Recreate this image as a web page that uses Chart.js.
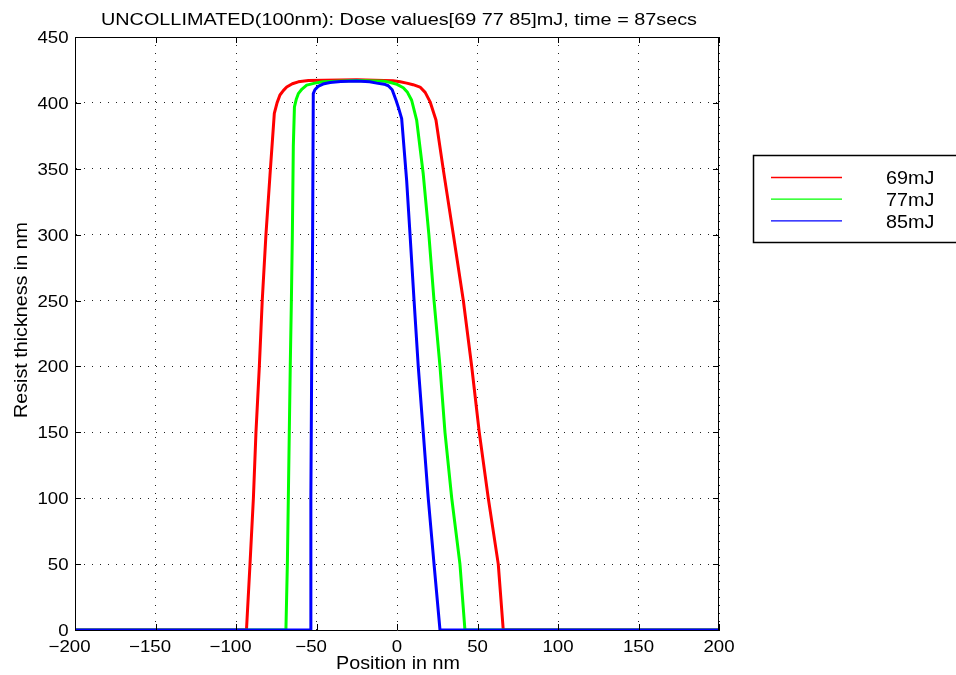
<!DOCTYPE html>
<html>
<head>
<meta charset="utf-8">
<script src="https://cdn.jsdelivr.net/npm/chart.js@4"></script>
<style>
html,body{margin:0;padding:0;background:#fff;}
#wrap{width:956px;height:675px;position:relative;}
</style>
</head>
<body>
<div id="wrap"><canvas id="c" width="956" height="675"></canvas></div>
<script>
'use strict';

const titleText = 'UNCOLLIMATED(100nm): Dose values[69 77 85]mJ, time = 87secs';
const xLabel = 'Position in nm';
const yLabel = 'Resist thickness in nm';
const seriesLabels = ['69mJ', '77mJ', '85mJ'];
const seriesColors = ['#ff0000', '#00ff00', '#0000ff'];

// position (nm) / resist thickness (nm)
const redX = [-200, -93.5, -91.3, -89.2, -87.6, -85.5, -83.7, -81.4, -78.9, -76.2, -74.5, -72.7, -70.5, -68.5, -65, -61.3, -55, -25, -2.5, 2, 6, 10, 14.3, 17.5, 20.5, 24.2, 28.8, 35, 41.2, 46.4, 51.1, 56.7, 62.9, 66, 200];
const redY = [0, 0, 50, 100, 150, 200, 250, 300, 345, 392, 400, 406, 409.5, 412, 414.5, 416, 417, 417.5, 416.8, 416, 415, 413.8, 412, 408, 401, 387, 349, 300, 250, 200, 150, 100, 50, 0, 0];

const greenX = [-200, -69, -68.1, -67.5, -66.9, -66.3, -65.6, -65, -64.4, -63.7, -62.5, -61.3, -59, -56.1, -51, -46, -25, -8, -4, 0, 3.9, 6.5, 9.1, 12.2, 16.3, 19.8, 23, 26.7, 29.8, 34, 39.1, 42.2, 200];
const greenY = [0, 0, 50, 100, 150, 200, 250, 300, 367, 397, 403, 407, 410.5, 413.5, 415, 416, 417, 416.5, 415.5, 414, 411.5, 408, 402, 387, 346, 300, 250, 200, 150, 100, 50, 0, 0];

const blueX = [-200, -54, -53.5, -53, -52.4, -52, -51, -49, -46, -41.6, -35, -25, -17, -12.6, -8, -5.4, -3, -0.6, 1, 2.9, 6, 8.1, 10.6, 13.2, 16.3, 19.4, 23, 26.7, 200];
const blueY = [0, 0, 100, 200, 300, 407, 410, 412.5, 414.3, 415.5, 416.3, 416.6, 416, 415, 414.2, 413, 410, 402, 396, 388, 341, 300, 250, 200, 150, 100, 50, 0, 0];

const xTicks = [-200, -150, -100, -50, 0, 50, 100, 150, 200];
const yTicks = [0, 50, 100, 150, 200, 250, 300, 350, 400, 450];

const FONT = '"Liberation Sans", Arial, sans-serif';
const SX = 1.13;

function pts(xs, ys){ return xs.map((x, i) => ({x, y: ys[i]})); }

// stretched text, like the wide Helvetica of the original figure
function txt(ctx, s, x, y, size, align, width){
  ctx.save();
  ctx.font = size + 'px ' + FONT;
  const w = ctx.measureText(s).width;
  const sx = width ? width / w : SX;
  ctx.translate(x, y);
  ctx.scale(sx, 1);
  ctx.textAlign = align;
  ctx.textBaseline = 'alphabetic';
  ctx.fillStyle = '#000';
  ctx.fillText(s, 0, 0);
  ctx.restore();
}

const matlabLook = {
  id: 'matlabLook',
  afterDraw(chart){
    const ctx = chart.ctx, a = chart.chartArea;
    const xs = chart.scales.x, ys = chart.scales.y;
    ctx.save();
    // box + inside ticks
    ctx.strokeStyle = '#000';
    ctx.lineWidth = 1;
    ctx.beginPath();
    ctx.moveTo(a.left, a.top + 0.5); ctx.lineTo(a.right, a.top + 0.5);
    ctx.moveTo(a.right - 0.5, a.top); ctx.lineTo(a.right - 0.5, a.bottom);
    xs.ticks.forEach(t => {
      const px = Math.round(xs.getPixelForValue(t.value)) + 0.5;
      ctx.moveTo(px, a.top); ctx.lineTo(px, a.top + 6);
      ctx.moveTo(px, a.bottom); ctx.lineTo(px, a.bottom - 6);
    });
    ys.ticks.forEach(t => {
      const py = Math.round(ys.getPixelForValue(t.value)) + 0.5;
      ctx.moveTo(a.left, py); ctx.lineTo(a.left + 6, py);
      ctx.moveTo(a.right, py); ctx.lineTo(a.right - 6, py);
    });
    ctx.stroke();

    // tick labels
    ctx.font = '16.5px ' + FONT;
    xs.ticks.forEach(t => {
      const px = xs.getPixelForValue(t.value);
      const digits = String(Math.abs(t.value));
      const dw = ctx.measureText(digits).width * SX;
      const s = (t.value < 0 ? '\u2212' : '') + digits;
      txt(ctx, s, px + dw / 2, 652, 16.5, 'right');
    });
    ys.ticks.forEach(t => {
      const py = ys.getPixelForValue(t.value);
      txt(ctx, String(t.value), 68.5, py + 6, 16.5, 'right');
    });

    // title and axis labels
    txt(ctx, titleText, 399, 24.5, 17, 'center', 596);
    txt(ctx, xLabel, 398, 669, 18, 'center', 124);
    ctx.save();
    ctx.translate(27, 320);
    ctx.rotate(-Math.PI / 2);
    txt(ctx, yLabel, 0, 0, 18, 'center', 196);
    ctx.restore();

    // legend box
    ctx.lineWidth = 1.5;
    ctx.strokeStyle = '#000';
    ctx.strokeRect(753.5, 155.5, 212, 87);
    seriesLabels.forEach((lab, i) => {
      const ly = 177.5 + i * 21.7;
      ctx.beginPath();
      ctx.strokeStyle = seriesColors[i];
      ctx.lineWidth = 1.3;
      ctx.moveTo(771, ly); ctx.lineTo(842, ly);
      ctx.stroke();
      txt(ctx, lab, 886, ly + 6.8, 17.5, 'left');
    });
    ctx.restore();
  }
};

new Chart(document.getElementById('c'), {
  type: 'scatter',
  data: {
    datasets: [
      {label: seriesLabels[0], data: pts(redX, redY), borderColor: seriesColors[0], order: 2},
      {label: seriesLabels[1], data: pts(greenX, greenY), borderColor: seriesColors[1], order: 1},
      {label: seriesLabels[2], data: pts(blueX, blueY), borderColor: seriesColors[2], order: 0}
    ].map(d => Object.assign(d, {showLine: true, pointRadius: 0, borderWidth: 3, fill: false, tension: 0, backgroundColor: d.borderColor, borderJoinStyle: 'round'}))
  },
  options: {
    responsive: false,
    animation: false,
    events: [],
    layout: {padding: {top: 37, right: 237, left: 0, bottom: 0}},
    plugins: {legend: {display: false}, title: {display: false}, tooltip: {enabled: false}},
    scales: {
      x: {
        type: 'linear', min: -200, max: 200,
        afterBuildTicks: s => { s.ticks = xTicks.map(v => ({value: v})); },
        afterFit: s => { s.height = 45; },
        ticks: {display: false},
        grid: {color: '#222', lineWidth: 1, drawTicks: false},
        border: {display: true, color: '#000', width: 1, dash: [1, 7]}
      },
      y: {
        type: 'linear', min: 0, max: 450,
        afterBuildTicks: s => { s.ticks = yTicks.map(v => ({value: v})); },
        afterFit: s => { s.width = 75; },
        ticks: {display: false},
        grid: {color: '#222', lineWidth: 1, drawTicks: false},
        border: {display: true, color: '#000', width: 1, dash: [1, 7]}
      }
    }
  },
  plugins: [matlabLook]
});
</script>
</body>
</html>
